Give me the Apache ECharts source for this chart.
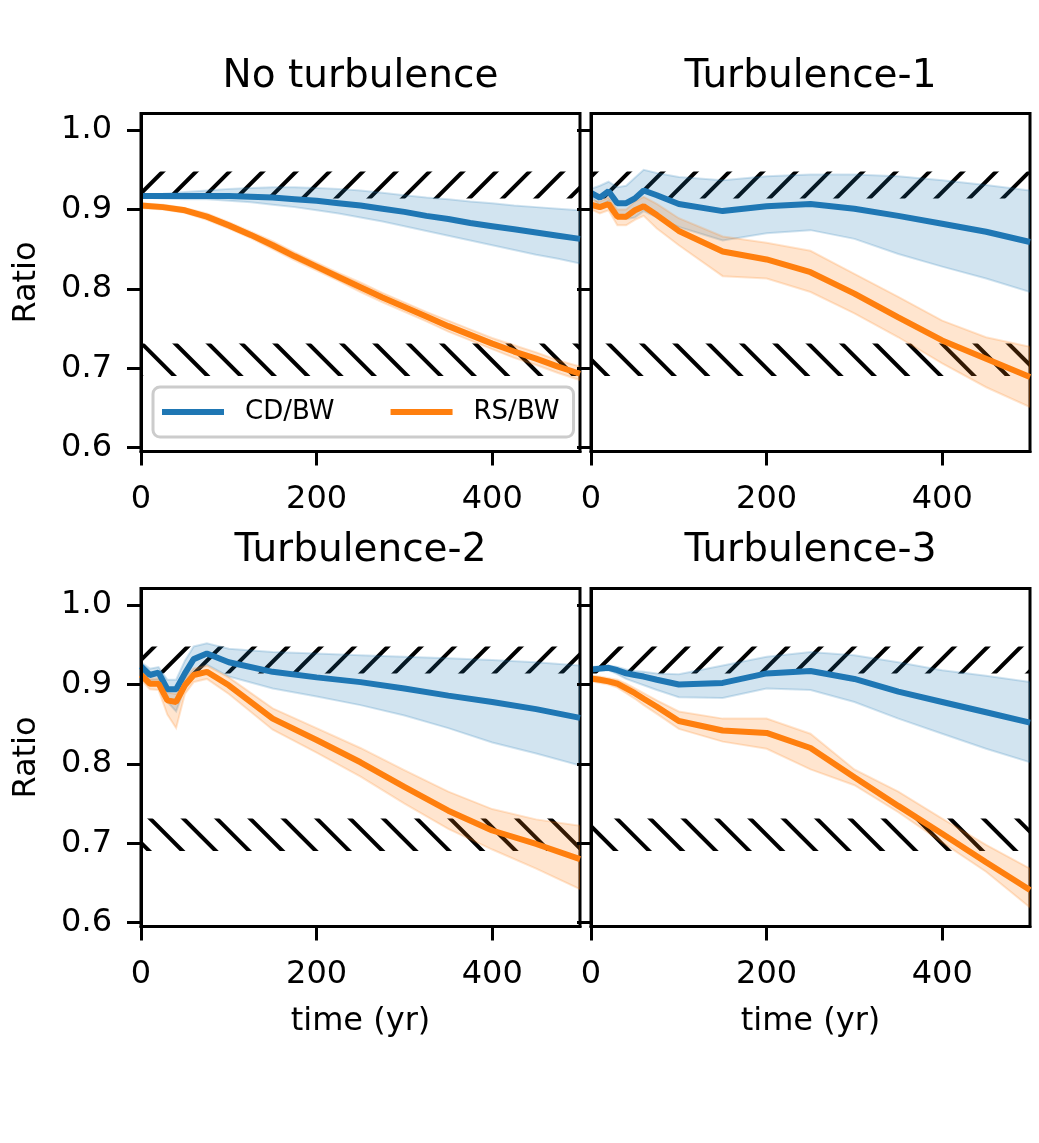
<!DOCTYPE html>
<html><head><meta charset="utf-8">
<script src="https://cdn.jsdelivr.net/npm/echarts@6/dist/echarts.min.js"></script>
<style>html,body{margin:0;padding:0;background:#fff}#c{width:1039px;height:1143px}</style>
</head><body><div id="c"></div>
<script>
// ---------- data ----------
const panelTitles = ['No turbulence', 'Turbulence-1', 'Turbulence-2', 'Turbulence-3'];
const xTicks = [0, 200, 400];
const yTicks = [0.6, 0.7, 0.8, 0.9, 1.0];
const hatchUpper = [0.914, 0.948];
const hatchLower = [0.690, 0.731];

const timeNT = [0,25,50,75,100,125,150,175,200,225,250,275,300,325,350,375,400,425,450,475,500];
const cdNT   = [0.917,0.917,0.917,0.917,0.917,0.916,0.915,0.913,0.911,0.908,0.905,0.901,0.897,0.892,0.888,0.883,0.879,0.875,0.871,0.867,0.863];
const cdNTHi = [0.919,0.920,0.922,0.924,0.926,0.927,0.928,0.928,0.927,0.926,0.924,0.921,0.918,0.915,0.913,0.910,0.908,0.905,0.903,0.901,0.899];
const cdNTLo = [0.915,0.914,0.913,0.913,0.911,0.909,0.906,0.903,0.899,0.895,0.890,0.885,0.879,0.873,0.867,0.861,0.855,0.849,0.843,0.838,0.832];
const rsNT   = [0.905,0.903,0.899,0.891,0.880,0.868,0.855,0.841,0.828,0.815,0.802,0.789,0.777,0.765,0.753,0.742,0.731,0.721,0.712,0.702,0.693];
const rsNTHi = [0.908,0.906,0.902,0.895,0.884,0.872,0.860,0.846,0.833,0.820,0.808,0.795,0.783,0.771,0.760,0.749,0.738,0.729,0.720,0.710,0.702];
const rsNTLo = [0.902,0.900,0.896,0.887,0.876,0.864,0.850,0.836,0.823,0.810,0.796,0.783,0.771,0.759,0.746,0.735,0.724,0.713,0.704,0.694,0.685];

const timeT = [0,10,20,30,40,50,60,75,100,150,200,250,300,350,400,450,500];
const cdT1   = [0.921,0.915,0.923,0.908,0.908,0.914,0.924,0.918,0.907,0.898,0.904,0.907,0.901,0.892,0.882,0.872,0.859];
const cdT1Hi = [0.926,0.930,0.935,0.928,0.930,0.940,0.950,0.946,0.941,0.937,0.942,0.944,0.944,0.942,0.937,0.931,0.924];
const cdT1Lo = [0.916,0.905,0.911,0.890,0.888,0.890,0.898,0.890,0.878,0.861,0.870,0.874,0.863,0.844,0.828,0.813,0.796];
const rsT1   = [0.906,0.903,0.907,0.891,0.891,0.899,0.904,0.893,0.873,0.847,0.837,0.821,0.794,0.764,0.735,0.712,0.689];
const rsT1Hi = [0.912,0.910,0.915,0.900,0.900,0.910,0.916,0.907,0.889,0.866,0.858,0.848,0.819,0.790,0.760,0.739,0.727];
const rsT1Lo = [0.900,0.895,0.899,0.880,0.880,0.887,0.892,0.876,0.855,0.816,0.813,0.796,0.769,0.739,0.706,0.676,0.651];

const cdT2   = [0.923,0.912,0.915,0.894,0.894,0.914,0.932,0.939,0.928,0.916,0.909,0.903,0.895,0.886,0.878,0.869,0.858];
const cdT2Hi = [0.928,0.920,0.922,0.906,0.906,0.930,0.948,0.952,0.945,0.941,0.939,0.937,0.935,0.933,0.931,0.928,0.924];
const cdT2Lo = [0.918,0.905,0.906,0.878,0.866,0.896,0.915,0.925,0.910,0.895,0.885,0.874,0.861,0.845,0.827,0.813,0.798];
const rsT2   = [0.912,0.901,0.901,0.880,0.878,0.899,0.912,0.916,0.899,0.857,0.830,0.802,0.771,0.741,0.716,0.699,0.680];
const rsT2Hi = [0.918,0.907,0.908,0.890,0.888,0.908,0.920,0.924,0.909,0.870,0.845,0.820,0.792,0.765,0.743,0.730,0.722];
const rsT2Lo = [0.906,0.894,0.893,0.862,0.845,0.888,0.903,0.907,0.888,0.843,0.814,0.784,0.750,0.718,0.692,0.668,0.642];

const cdT3   = [0.919,0.920,0.921,0.918,0.914,0.912,0.910,0.906,0.900,0.902,0.914,0.917,0.907,0.891,0.878,0.865,0.852];
const cdT3Hi = [0.922,0.923,0.924,0.922,0.919,0.917,0.916,0.914,0.913,0.924,0.935,0.941,0.937,0.928,0.918,0.911,0.903];
const cdT3Lo = [0.916,0.917,0.918,0.913,0.907,0.903,0.899,0.893,0.884,0.883,0.895,0.893,0.878,0.857,0.838,0.819,0.802];
const rsT3   = [0.9075,0.906,0.904,0.901,0.895,0.889,0.882,0.872,0.854,0.842,0.839,0.820,0.783,0.747,0.712,0.676,0.641];
const rsT3Hi = [0.911,0.910,0.908,0.906,0.901,0.895,0.889,0.880,0.866,0.857,0.857,0.838,0.793,0.765,0.731,0.698,0.668];
const rsT3Lo = [0.904,0.902,0.900,0.896,0.889,0.882,0.874,0.863,0.844,0.828,0.819,0.793,0.773,0.739,0.701,0.664,0.619];

// ---------- build ----------
const panels = [
  {t: timeNT, cd: cdNT, cdHi: cdNTHi, cdLo: cdNTLo, rs: rsNT, rsHi: rsNTHi, rsLo: rsNTLo},
  {t: timeT, cd: cdT1, cdHi: cdT1Hi, cdLo: cdT1Lo, rs: rsT1, rsHi: rsT1Hi, rsLo: rsT1Lo},
  {t: timeT, cd: cdT2, cdHi: cdT2Hi, cdLo: cdT2Lo, rs: rsT2, rsHi: rsT2Hi, rsLo: rsT2Lo},
  {t: timeT, cd: cdT3, cdHi: cdT3Hi, cdLo: cdT3Lo, rs: rsT3, rsHi: rsT3Hi, rsLo: rsT3Lo}
];
const FONT = 'DejaVu Sans';
const BLUE = '#1f77b4', ORANGE = '#ff7f0e';
const BLUE_A = 'rgba(31,119,180,0.2)', ORANGE_A = 'rgba(255,127,14,0.2)';

function makeHatch(dir) {
  const S = 100, sp = 100 / 3;
  const cv = document.createElement('canvas'); cv.width = S; cv.height = S;
  const ctx = cv.getContext('2d');
  ctx.strokeStyle = '#000'; ctx.lineWidth = 4; ctx.lineCap = 'butt';
  ctx.beginPath();
  if (dir > 0) {
    for (let k = -2; k <= 8; k++) { const c = 1 + k * sp; ctx.moveTo(c + 10, -10); ctx.lineTo(c - 110, 110); }
  } else {
    for (let k = -6; k <= 4; k++) { const c = 31.6 + k * sp; ctx.moveTo(c - 10, -10); ctx.lineTo(c + 110, 110); }
  }
  ctx.stroke();
  return cv;
}
const hatchF = makeHatch(1), hatchB = makeHatch(-1);

const gridPos = [
  {left: 141, top: 113.5}, {left: 591, top: 113.5},
  {left: 141, top: 588.5}, {left: 591, top: 588.5}
];
const GW = 439, GH = 338;

const pair = (xs, ys) => xs.map((x, i) => [x, ys[i]]);
const triple = (xs, lo, hi) => xs.map((x, i) => [x, lo[i], hi[i]]);

// band polygon drawn through the axes' scales (api.coord)
function bandRenderer(fill) {
  return function (params, api) {
    if (params.dataIndex !== 0) return null;
    const n = params.dataInsideLength;
    const top = [], bot = [];
    for (let i = 0; i < n; i++) {
      top.push(api.coord([api.value(0, i), api.value(2, i)]));
      bot.push(api.coord([api.value(0, i), api.value(1, i)]));
    }
    const pts = top.concat(bot.reverse());
    return {type: 'polygon', shape: {points: pts},
      style: {fill: fill, stroke: fill, lineWidth: 2}, silent: true};
  };
}

const grids = [], xAxes = [], yAxes = [], series = [], titles = [];
panels.forEach((P, p) => {
  grids.push({left: gridPos[p].left, top: gridPos[p].top, width: GW, height: GH,
    show: true, borderColor: '#000', borderWidth: 3, backgroundColor: 'transparent', containLabel: false});
  xAxes.push({type: 'value', gridIndex: p, min: 0, max: 500, z: 20,
    axisLine: {show: true, onZero: false, lineStyle: {color: '#000', width: 3}},
    axisTick: {show: true, length: 14, lineStyle: {color: '#000', width: 3}, customValues: xTicks},
    axisLabel: {show: true, customValues: xTicks, fontSize: 32, fontFamily: FONT, color: '#000', margin: 32},
    splitLine: {show: false},
    name: p >= 2 ? 'time (yr)' : '', nameLocation: 'middle', nameGap: 79,
    nameTextStyle: {fontSize: 32, fontFamily: FONT, color: '#000'}});
  yAxes.push({type: 'value', gridIndex: p, min: 0.595, max: 1.021, z: 20,
    axisLine: {show: true, onZero: false, lineStyle: {color: '#000', width: 3}},
    axisTick: {show: true, length: 14, lineStyle: {color: '#000', width: 3}, customValues: yTicks},
    axisLabel: {show: p % 2 === 0, customValues: yTicks, fontSize: 32, fontFamily: FONT, color: '#000', margin: 29,
      formatter: v => (+v).toFixed(1)},
    splitLine: {show: false},
    name: p % 2 === 0 ? 'Ratio' : '', nameLocation: 'middle', nameGap: 98,
    nameTextStyle: {fontSize: 32, fontFamily: FONT, color: '#000'}});
  titles.push({text: panelTitles[p], left: gridPos[p].left + GW / 2, top: p < 2 ? 57 : 531,
    textAlign: 'center', padding: 0,
    textStyle: {fontSize: 39, fontWeight: 'normal', fontFamily: FONT, color: '#000', lineHeight: 39}});

  const common = {xAxisIndex: p, yAxisIndex: p, silent: true, animation: false};
  series.push(Object.assign({type: 'line', name: 'hatch' + p, data: [], symbol: 'none', z: 1,
    markArea: {silent: true, data: [
      [{yAxis: hatchUpper[0], itemStyle: {color: {image: hatchF, repeat: 'repeat'}, borderWidth: 0}}, {yAxis: hatchUpper[1]}],
      [{yAxis: hatchLower[0], itemStyle: {color: {image: hatchB, repeat: 'repeat'}, borderWidth: 0}}, {yAxis: hatchLower[1]}]
    ]}}, common));
  series.push(Object.assign({type: 'custom', name: 'cdband' + p, z: 2, clip: true,
    data: triple(P.t, P.cdLo, P.cdHi), encode: {x: 0, y: [1, 2]},
    renderItem: bandRenderer(BLUE_A)}, common));
  series.push(Object.assign({type: 'custom', name: 'rsband' + p, z: 2, clip: true,
    data: triple(P.t, P.rsLo, P.rsHi), encode: {x: 0, y: [1, 2]},
    renderItem: bandRenderer(ORANGE_A)}, common));
  series.push(Object.assign({type: 'line', name: 'CD/BW', z: 5, data: pair(P.t, P.cd), symbol: 'none',
    lineStyle: {color: BLUE, width: 6}, itemStyle: {color: BLUE}}, common));
  series.push(Object.assign({type: 'line', name: 'RS/BW', z: 5, data: pair(P.t, P.rs), symbol: 'none',
    lineStyle: {color: ORANGE, width: 6}, itemStyle: {color: ORANGE}}, common));
});

const chart = echarts.init(document.getElementById('c'), null, {renderer: 'canvas'});
chart.setOption({
  animation: false,
  backgroundColor: '#fff',
  title: titles,
  grid: grids,
  xAxis: xAxes,
  yAxis: yAxes,
  legend: {data: ['CD/BW', 'RS/BW'], left: 153, top: 387, orient: 'horizontal', icon: 'rect',
    itemWidth: 62, itemHeight: 6, itemGap: 56, padding: [10, 14, 10, 9], selectedMode: false,
    backgroundColor: 'rgba(255,255,255,0.8)', borderColor: '#cccccc', borderWidth: 3, borderRadius: 7,
    textStyle: {fontSize: 26, fontFamily: FONT, color: '#000', padding: [0, 0, 0, 16], lineHeight: 30}},
  series: series
});
</script>
</body></html>
